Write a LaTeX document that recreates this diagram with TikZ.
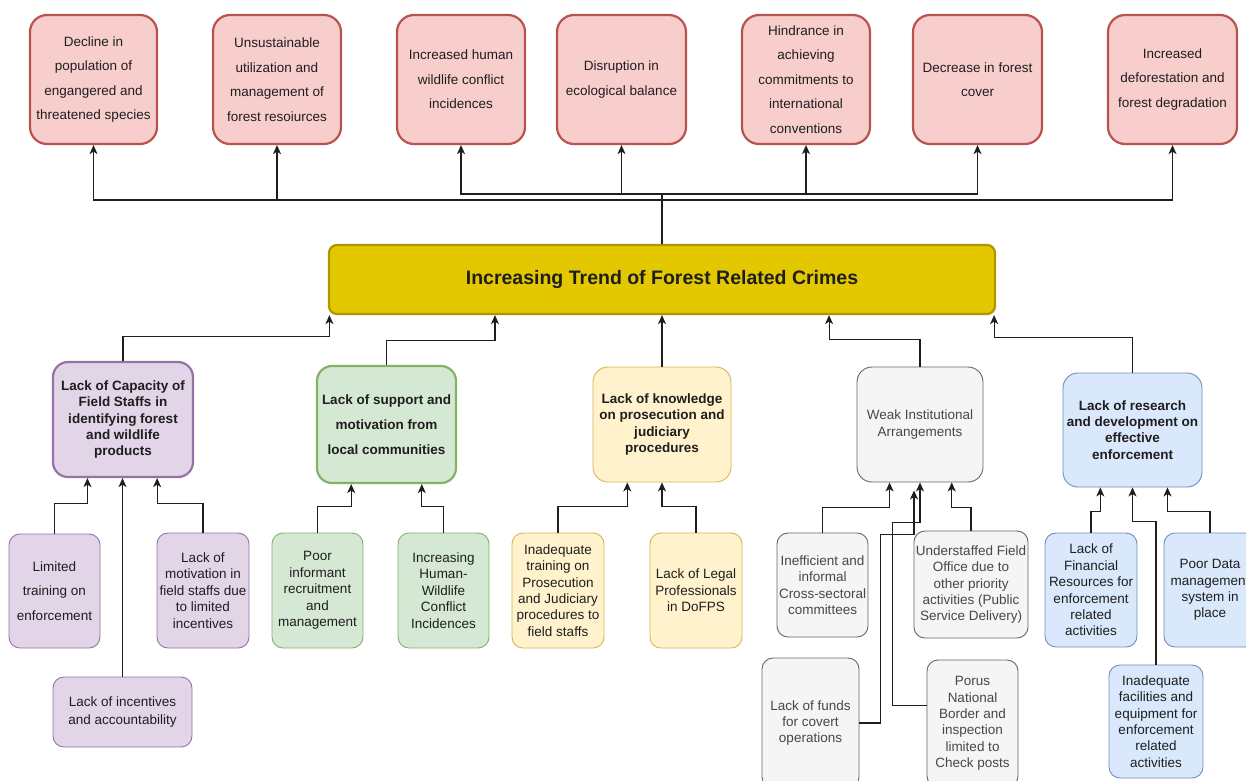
\documentclass[tikz,border=0pt]{standalone}
\usepackage{fontspec}
\setmainfont{Liberation Sans}
\usetikzlibrary{arrows.meta,calc}

\definecolor{effFill}{HTML}{F8CECC}\definecolor{effDraw}{HTML}{B85450}
\definecolor{mainFill}{HTML}{E3C800}\definecolor{mainDraw}{HTML}{B09500}
\definecolor{purFill}{HTML}{E1D5E7}\definecolor{purDraw}{HTML}{9673A6}
\definecolor{grnFill}{HTML}{D5E8D4}\definecolor{grnDraw}{HTML}{82B366}
\definecolor{yelFill}{HTML}{FFF2CC}\definecolor{yelDraw}{HTML}{D6B656}
\definecolor{gryFill}{HTML}{F5F5F5}\definecolor{gryDraw}{HTML}{666666}
\definecolor{bluFill}{HTML}{DAE8FC}\definecolor{bluDraw}{HTML}{6C8EBF}
\definecolor{ink}{HTML}{1E1E1E}

\begin{document}
\begin{tikzpicture}[x=1pt,y=-1pt,
  sz/.style 2 args={minimum width=#1pt,minimum height=#2pt},
  box/.style={rounded corners=11pt,align=center,inner sep=2pt,text=ink,line width=0.9pt,
    font=\fontsize{13.5}{16.4}\selectfont},
  effect/.style={box,fill=effFill,draw=effDraw,line width=2.2pt,rounded corners=17pt,
    font=\fontsize{13.5}{24.5}\selectfont},
  problem/.style={box,fill=mainFill,draw=mainDraw,line width=2.2pt,rounded corners=8pt,
    font=\fontsize{19.5}{22}\selectfont\bfseries},
  bold/.style={font=\fontsize{13.5}{16.2}\selectfont\bfseries},
  pur/.style={box,fill=purFill,draw=purDraw},
  grn/.style={box,fill=grnFill,draw=grnDraw},
  yel/.style={box,fill=yelFill,draw=yelDraw},
  gry/.style={box,fill=gryFill,draw=gryDraw,text=black!72},
  blu/.style={box,fill=bluFill,draw=bluDraw},
  arr/.style={-{Stealth[length=9pt,width=8pt,inset=2.5pt]},line width=1.1pt,draw=ink}]

\useasboundingbox (0,0) rectangle (1246,780);
\fill[white] (0,0) rectangle (1246,780);
\clip (0,0) rectangle (1246,780);

% effects
\node[effect,sz={127}{129}] (t1) at (93.5,79.5) {Decline in\\population of\\engangered and\\threatened species};
\node[effect,sz={128}{129}] (t2) at (277,79.5) {Unsustainable\\utilization and\\management of\\forest resoiurces};
\node[effect,sz={128}{129}] (t3) at (461,79.5) {Increased human\\wildlife conflict\\incidences};
\node[effect,sz={129}{129}] (t4) at (621.5,79.5) {Disruption in\\ecological balance};
\node[effect,sz={128}{129}] (t5) at (806,79.5) {Hindrance in\\achieving\\commitments to\\international\\conventions};
\node[effect,sz={129}{129}] (t6) at (977.5,79.5) {Decrease in forest\\cover};
\node[effect,sz={129}{129}] (t7) at (1172.5,79.5) {Increased\\deforestation and\\forest degradation};

% core problem
\node[problem,sz={666}{69}] (main) at (662,279.5) {Increasing Trend of Forest Related Crimes};

% causes
\node[pur,bold,line width=2.2pt,rounded corners=15pt,sz={140}{115}] (c1) at (123,419.5) {Lack of Capacity of\\Field Staffs in\\identifying forest\\and wildlife\\products};
\node[grn,font=\fontsize{13.5}{25}\selectfont\bfseries,line width=2.2pt,rounded corners=15pt,sz={139}{117}] (c2) at (386.5,424.5) {Lack of support and\\motivation from\\local communities};
\node[yel,bold,rounded corners=15pt,sz={138}{115}] (c3) at (662,424.5) {Lack of knowledge\\on prosecution and\\judiciary\\procedures};
\node[gry,font=\fontsize{13.5}{17.5}\selectfont,rounded corners=15pt,sz={126}{115}] (c4) at (920,424.5) {Weak Institutional\\Arrangements};
\node[blu,bold,rounded corners=15pt,sz={139}{114}] (c5) at (1132.5,430) {Lack of research\\and development on\\effective\\enforcement};

% sub-causes
\node[pur,font=\fontsize{13.5}{24.5}\selectfont,sz={91}{114}] (c1a) at (54.5,591) {Limited\\training on\\enforcement};
\node[pur,sz={92}{115}] (c1b) at (203,590.5) {Lack of\\motivation in\\field staffs due\\to limited\\incentives};
\node[pur,font=\fontsize{13.5}{18}\selectfont,sz={139}{70}] (c1c) at (122.5,712) {Lack of incentives\\and accountability};

\node[grn,sz={91}{115}] (c2a) at (317.5,590.5) {Poor\\informant\\recruitment\\and\\management};
\node[grn,sz={91}{115}] (c2b) at (443.5,590.5) {Increasing\\Human-\\Wildlife\\Conflict\\Incidences};

\node[yel,sz={92}{115}] (c3a) at (558,590.5) {Inadequate\\training on\\Prosecution\\and Judiciary\\procedures to\\field staffs};
\node[yel,sz={92}{115}] (c3b) at (696,590.5) {Lack of Legal\\Professionals\\in DoFPS};

\node[gry,sz={91}{104}] (c4a) at (822.5,585) {Inefficient and\\informal\\Cross-sectoral\\committees};
\node[gry,sz={114}{107}] (c4b) at (971,584.5) {Understaffed Field\\Office due to\\other priority\\activities (Public\\Service Delivery)};
\node[gry,sz={97}{130}] (c4c) at (810.5,723) {Lack of funds\\for covert\\operations};
\node[gry,sz={91}{127}] (c4d) at (972.5,723.5) {Porus\\National\\Border and\\inspection\\limited to\\Check posts};

\node[blu,sz={92}{114}] (c5a) at (1091,590) {Lack of\\Financial\\Resources for\\enforcement\\related\\activities};
\node[blu,sz={92}{114}] (c5b) at (1210,590) {Poor Data\\management\\system in\\place};
\node[blu,sz={94}{113}] (c5c) at (1156,721.5) {Inadequate\\facilities and\\equipment for\\enforcement\\related\\activities};

% effect connectors
\coordinate (busA) at (0,194);
\coordinate (busB) at (0,200);
\foreach \t in {t3,t4,t5,t6}
  \draw[arr] (main.north) -- (main.north |- busA) -| (\t.south);
\foreach \t in {t1,t2,t7}
  \draw[arr] (main.north) -- (main.north |- busB) -| (\t.south);

% cause connectors
\coordinate (m1) at ($(main.south west)+(1.5,0)$);
\coordinate (m2) at ($(main.south west)!0.25!(main.south east)$);
\coordinate (m4) at ($(main.south west)!0.75!(main.south east)$);
\coordinate (m5) at ($(main.south east)+(-2,0)$);
\draw[arr] (c1.north) -- ++(0,-24) -| (m1);
\draw[arr] (c2.north) -- ++(0,-24) -| (m2);
\draw[arr] (c3.north) -- (main.south);
\draw[arr] (c4.north) -- ++(0,-27) -| (m4);
\draw[arr] (c5.north) -- ++(0,-35) -| (m5);

% sub-cause connectors
\draw[arr] (c1a.north) -- ++(0,-30) -| ($(c1.south west)!0.25!(c1.south east)$);
\draw[arr] (c1b.north) -- ++(0,-29) -| ($(c1.south west)!0.74!(c1.south east)$);
\draw[arr] (c1c.north) -- (c1c.north |- c1.south);

\draw[arr] (c2a.north) -- ++(0,-26) -| ($(c2.south west)!0.25!(c2.south east)$);
\draw[arr] (c2b.north) -- ++(0,-26) -| ($(c2.south west)!0.75!(c2.south east)$);

\draw[arr] (c3a.north) -- ++(0,-26) -| ($(c3.south west)!0.25!(c3.south east)$);
\draw[arr] (c3b.north) -- ++(0,-26) -| (c3.south);

\draw[arr] (c4a.north) -- ++(0,-25) -| ($(c4.south west)!0.26!(c4.south east)$);
\draw[arr] (c4b.north) -- ++(0,-23) -| ($(c4.south west)!0.75!(c4.south east)$);
\draw[arr] (c4c.east) -- ++(21,0) |- ($(c4.south)+(-6,52)$) -- ($(c4.south)+(-6,8)$);
\draw[arr] ($(c4d.west)+(0,-18)$) -- ++(-34,0) |- ($(c4.south)+(0,40)$) -- (c4.south);

\draw[arr] (c5a.north) -- ++(0,-21) -| ($(c5.south west)!0.27!(c5.south east)$);
\draw[arr] (c5b.north) -- ++(0,-21) -| ($(c5.south west)!0.75!(c5.south east)$);
\draw[arr] (c5c.north) -- ++(0,-143) -| (c5.south);
\end{tikzpicture}
\end{document}
